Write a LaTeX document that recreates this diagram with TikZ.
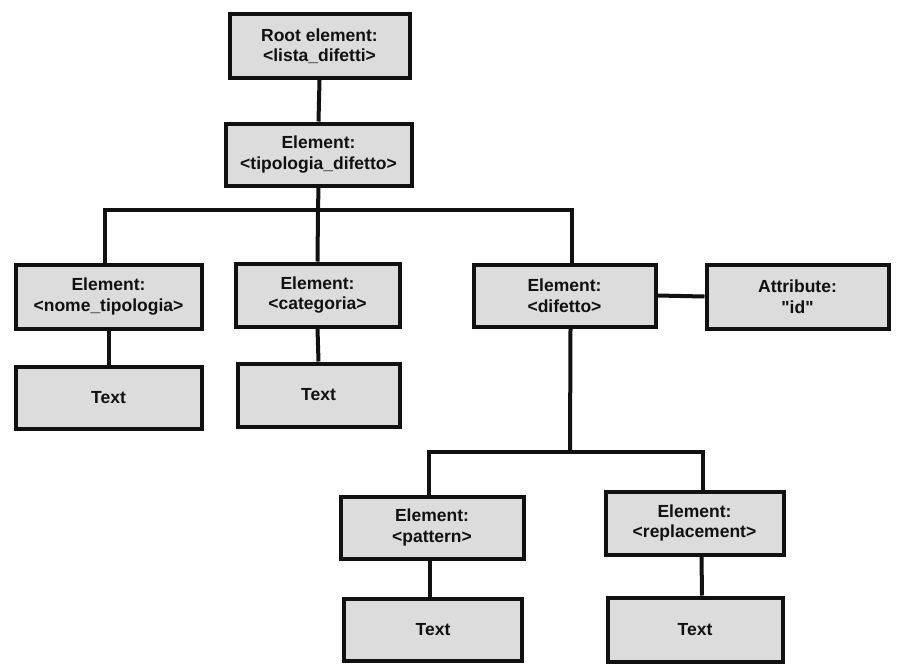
\documentclass[tikz,border=0pt]{standalone}
\usepackage{fontspec}
\setmainfont{Liberation Sans}[Ligatures=TeXOff]
\definecolor{boxfill}{HTML}{DCDCDC}
\definecolor{ink}{HTML}{111111}
\begin{document}
\begin{tikzpicture}[x=1pt,y=-1pt,
  box/.style={draw=ink, line width=4pt, fill=boxfill, rectangle, inner sep=0pt,
    align=center, font=\fontsize{17.5}{20.5}\selectfont\bfseries, text=ink},
  conn/.style={draw=ink, line width=4pt}]
\useasboundingbox (0,0) rectangle (901,670);
\fill[white] (0,0) rectangle (901,670);
\node[box, minimum width=180pt, minimum height=64pt] (root) at (319.5,46) {Root element:\\ <lista\_difetti>};
\node[box, minimum width=186pt, minimum height=62pt] (tip) at (318.5,154.5) {Element:\\<tipologia\_difetto>};
\node[box, minimum width=186pt, minimum height=64pt] (nome) at (108.5,296.5) {Element:\\<nome\_tipologia>};
\node[box, minimum width=186pt, minimum height=62pt] (t1) at (108.5,397.5) {Text};
\node[box, minimum width=164pt, minimum height=63pt] (cat) at (317.5,295) {Element:\\<categoria>};
\node[box, minimum width=162pt, minimum height=63pt] (t2) at (318.5,395) {Text};
\node[box, minimum width=182pt, minimum height=62pt] (dif) at (564.5,295.5) {Element:\\<difetto>};
\node[box, minimum width=182pt, minimum height=64pt] (attr) at (797.5,296.5) {Attribute:\\"id"};
\node[box, minimum width=183pt, minimum height=62pt] (pat) at (432,527.5) {Element:\\<pattern>};
\node[box, minimum width=178pt, minimum height=62pt] (t3) at (433,629.5) {Text};
\node[box, minimum width=178pt, minimum height=63pt] (rep) at (694.5,523) {Element:\\<replacement>};
\node[box, minimum width=175pt, minimum height=64pt] (t4) at (695,629.5) {Text};
\coordinate (bus1) at (318,210);
\coordinate (bus2) at (570,452);
% connectors
\draw[conn] (root.south) -- (tip.north);
\draw[conn] (tip.south) -- (bus1);
\draw[conn] ([xshift=-4pt]nome.north) |- (bus1) -| ([xshift=7pt]dif.north);
\draw[conn] (bus1) -- (cat.north);
\draw[conn] (nome.south) -- (t1.north);
\draw[conn] (cat.south) -- (t2.north);
\draw[conn] (dif.east) -- (attr.west);
\draw[conn] ([xshift=6pt]dif.south) -- (bus2);
\draw[conn] ([xshift=-3pt]pat.north) |- (bus2) -| ([xshift=8pt]rep.north);
\draw[conn] ([xshift=-2pt]pat.south) -- ([xshift=-3pt]t3.north);
\draw[conn] ([xshift=7pt]rep.south) -- ([xshift=7pt]t4.north);
\end{tikzpicture}
\end{document}
